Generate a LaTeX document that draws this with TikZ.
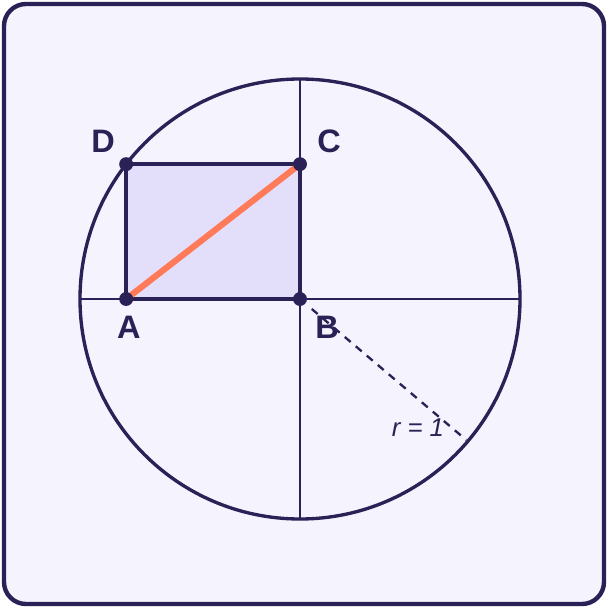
\documentclass[tikz,border=0pt]{standalone}
\usepackage{fontspec}
\setmainfont{Liberation Sans}
\usepackage{tikz}
\usetikzlibrary{positioning}

\definecolor{ink}{HTML}{2A2256}
\definecolor{paper}{HTML}{F5F3FD}
\definecolor{boxfill}{HTML}{E3DFFB}
\definecolor{diag}{HTML}{FF7A59}

\begin{document}
\begin{tikzpicture}[x=3cm, y=3cm,
	vertex/.style={circle, fill=ink, inner sep=0pt, minimum size=5.4pt},
	ptlabel/.style={font=\fontsize{12.6}{14}\selectfont\bfseries, text=ink, inner sep=1pt}]
	\useasboundingbox (-1.3636,-1.4045) rectangle (1.4,1.3591);
	\draw[ink, line width=1.7pt, fill=paper, rounded corners=0.3cm] (-1.3455,-1.3864) rectangle (1.3818,1.3409);

	\coordinate (O) at (0,0);
	\coordinate (D) at (142.2:1);
	\coordinate (A) at (D |- O);
	\coordinate (C) at (O |- D);
	\coordinate (B) at (O);

	% axes and unit circle
	\draw[ink, line width=0.85pt] (-1,0) -- (1,0);
	\draw[ink, line width=0.85pt] (0,-1) -- (0,1);
	\draw[ink, line width=1.3pt] (O) circle (1);

	% rectangle ABCD
	\draw[ink, line width=1.7pt, fill=boxfill] (A) -- (B) -- (C) -- (D) -- cycle;
	\draw[diag, line width=2.4pt] (A) -- (C);

	% radius
	\coordinate (r0) at (-40.3:0.07);
	\coordinate (r1) at (-40.3:0.99);
	\draw[ink, line width=0.9pt, dash pattern=on 3pt off 2.6pt] (r0) -- (r1);
	\node[text=ink, font=\fontsize{10}{12}\selectfont\itshape] (rlab) at (0.536,-0.586) {r = 1};

	\node[vertex] (a) at (A) {};
	\node[vertex] (b) at (B) {};
	\node[vertex] (c) at (C) {};
	\node[vertex] (d) at (D) {};

	\node[ptlabel] (la) at (-0.778,-0.127) {A};
	\node[ptlabel] (lb) at (0.123,-0.127) {B};
	\node[ptlabel] (lc) at (0.132,0.718) {C};
	\node[ptlabel] (ld) at (-0.895,0.718) {D};
\end{tikzpicture}
\end{document}
